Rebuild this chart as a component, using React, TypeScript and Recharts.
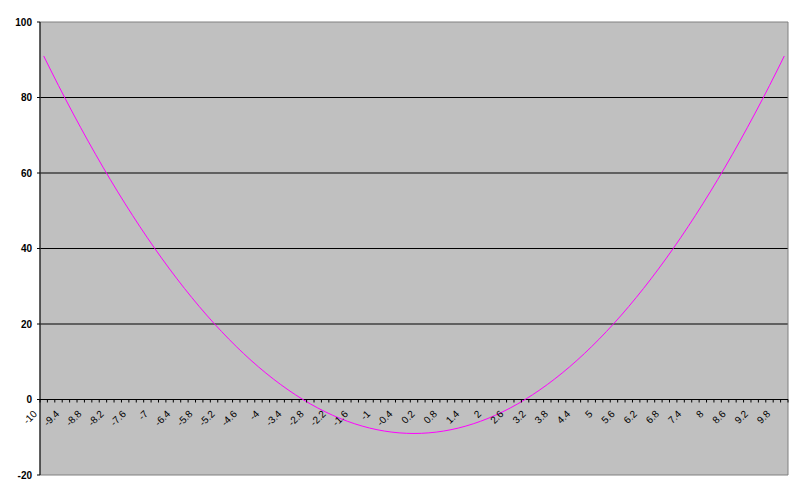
import React from 'react';
import { LineChart, Line, XAxis, YAxis, CartesianGrid, ReferenceLine, ReferenceArea } from 'recharts';

// x categories, step 0.2
const xValues = [
  -10, -9.8, -9.6, -9.4, -9.2, -9, -8.8, -8.6, -8.4, -8.2,
  -8, -7.8, -7.6, -7.4, -7.2, -7, -6.8, -6.6, -6.4, -6.2,
  -6, -5.8, -5.6, -5.4, -5.2, -5, -4.8, -4.6, -4.4, -4.2,
  -4, -3.8, -3.6, -3.4, -3.2, -3, -2.8, -2.6, -2.4, -2.2,
  -2, -1.8, -1.6, -1.4, -1.2, -1, -0.8, -0.6, -0.4, -0.2,
  0, 0.2, 0.4, 0.6, 0.8, 1, 1.2, 1.4, 1.6, 1.8,
  2, 2.2, 2.4, 2.6, 2.8, 3, 3.2, 3.4, 3.6, 3.8,
  4, 4.2, 4.4, 4.6, 4.8, 5, 5.2, 5.4, 5.6, 5.8,
  6, 6.2, 6.4, 6.6, 6.8, 7, 7.2, 7.4, 7.6, 7.8,
  8, 8.2, 8.4, 8.6, 8.8, 9, 9.2, 9.4, 9.6, 9.8,
  10,
];

const yValues = [
  91, 87.04, 83.16, 79.36, 75.64, 72, 68.44, 64.96, 61.56, 58.24,
  55, 51.84, 48.76, 45.76, 42.84, 40, 37.24, 34.56, 31.96, 29.44,
  27, 24.64, 22.36, 20.16, 18.04, 16, 14.04, 12.16, 10.36, 8.64,
  7, 5.44, 3.96, 2.56, 1.24, 0, -1.16, -2.24, -3.24, -4.16,
  -5, -5.76, -6.44, -7.04, -7.56, -8, -8.36, -8.64, -8.84, -8.96,
  -9, -8.96, -8.84, -8.64, -8.36, -8, -7.56, -7.04, -6.44, -5.76,
  -5, -4.16, -3.24, -2.24, -1.16, 0, 1.24, 2.56, 3.96, 5.44,
  7, 8.64, 10.36, 12.16, 14.04, 16, 18.04, 20.16, 22.36, 24.64,
  27, 29.44, 31.96, 34.56, 37.24, 40, 42.84, 45.76, 48.76, 51.84,
  55, 58.24, 61.56, 64.96, 68.44, 72, 75.64, 79.36, 83.16, 87.04,
  91,
];

const yTicks = [-20, 0, 20, 40, 60, 80, 100];
const gridValues = [20, 40, 60, 80];

const data = xValues.map((x, i) => ({ x, y: yValues[i] }));

const W = 800;
const H = 497;
const TOP = 22;
const BOTTOM = 475;
const LEFT = 40;
const RIGHT = 788;
// x axis crosses at y = 0
const ZERO_Y = BOTTOM - ((BOTTOM - TOP) * 20) / 120;
const HALF_STEP = (RIGHT - LEFT) / xValues.length / 2;

const XTick = (props: any) => {
  const { x, index, payload } = props;
  const isLast = index === xValues.length - 1;
  const lx = x - 6;
  const ly = ZERO_Y + 15;
  return (
    <g>
      <line x1={x - HALF_STEP} x2={x - HALF_STEP} y1={ZERO_Y} y2={ZERO_Y + 3} stroke="#000" />
      {isLast && <line x1={x + HALF_STEP} x2={x + HALF_STEP} y1={ZERO_Y} y2={ZERO_Y + 3} stroke="#000" />}
      {index % 3 === 0 && (
        <text
          x={lx}
          y={ly}
          transform={`rotate(-45 ${lx} ${ly})`}
          textAnchor="end"
          fontSize={10}
          fontFamily="'Liberation Sans', Arial, sans-serif"
          fill="#000"
        >
          {String(payload.value)}
        </text>
      )}
    </g>
  );
};

export default function App() {
  return (
    <div style={{ position: 'absolute', left: 0, top: 0, width: W, height: H, background: '#fff' }}>
      <LineChart width={W} height={H} data={data} margin={{ top: TOP, right: W - RIGHT, bottom: 0, left: 0 }}>
        <CartesianGrid
          fill="#C0C0C0"
          vertical={false}
          horizontalValues={gridValues}
          stroke="#000"
          strokeOpacity={1}
        />
        <ReferenceArea
          x1={-10.1}
          x2={10.1}
          y1={-20}
          y2={100}
          fill="none"
          stroke="#808080"
          strokeWidth={1}
          ifOverflow="visible"
        />
        <XAxis
          dataKey="x"
          type="number"
          domain={[-10.1, 10.1]}
          allowDataOverflow
          ticks={xValues}
          interval={0}
          height={H - BOTTOM}
          axisLine={false}
          tickLine={false}
          tick={<XTick />}
        />
        <YAxis
          domain={[-20, 100]}
          ticks={yTicks}
          interval={0}
          width={LEFT}
          axisLine={{ stroke: '#000' }}
          tickLine={{ stroke: '#000' }}
          tickSize={3}
          tickMargin={5}
          tick={{ fontSize: 10, fontWeight: 'bold', fill: '#000', fontFamily: "'Liberation Sans', Arial, sans-serif" }}
        />
        <ReferenceLine y={0} stroke="#000" strokeWidth={1} />
        <Line
          type="linear"
          dataKey="y"
          stroke="#FF00FF"
          strokeWidth={1}
          dot={false}
          isAnimationActive={false}
        />
      </LineChart>
    </div>
  );
}
